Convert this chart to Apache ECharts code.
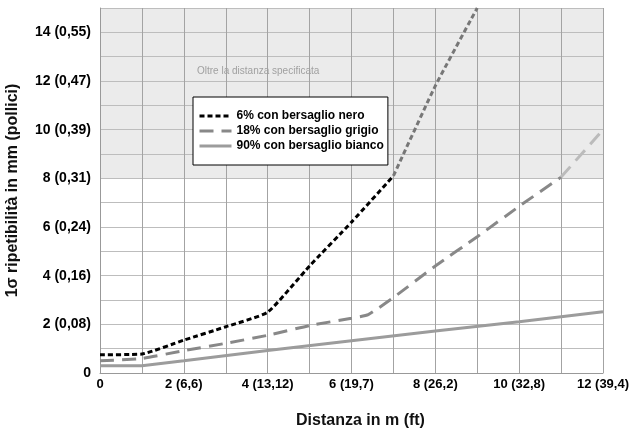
<!DOCTYPE html>
<html>
<head>
<meta charset="utf-8">
<script src="https://cdn.jsdelivr.net/npm/echarts@6/dist/echarts.min.js"></script>
<style>
  html, body { margin: 0; padding: 0; background: #fff; }
  #chart { width: 641px; height: 435px; }
</style>
</head>
<body>
<div id="chart"></div>
<script>
  var FONT = '"Liberation Sans", Arial, sans-serif'

  // tick labels
  var xLabels = { 0: '0', 2: '2 (6,6)', 4: '4 (13,12)', 6: '6 (19,7)', 8: '8 (26,2)', 10: '10 (32,8)', 12: '12 (39,4)' }
  var yLabels = { 0: '0', 2: '2 (0,08)', 4: '4 (0,16)', 6: '6 (0,24)', 8: '8 (0,31)', 10: '10 (0,39)', 12: '12 (0,47)', 14: '14 (0,55)' }

  // series values [distanza m, ripetibilita mm]
  var nero = [[0, 0.75], [1, 0.78], [2, 1.35], [3, 1.9], [4, 2.5], [5, 4.4], [6, 6.2], [7, 8.1]]
  var neroOltre = [[7, 8.1], [8, 11.8], [9, 15]]
  var grigio = [[0, 0.5], [1, 0.6], [2, 0.92], [3, 1.22], [4, 1.55], [5, 1.95], [6, 2.25], [6.4, 2.4], [7, 3.1], [8, 4.4], [9, 5.6], [10, 6.85], [11, 8.05]]
  var grigioOltre = [[11, 8.05], [12, 10]]
  var bianco = [[0, 0.3], [1, 0.3], [2, 0.5], [4, 0.92], [6, 1.33], [8, 1.73], [10, 2.11], [12, 2.52]]

  var names = ['6% con bersaglio nero', '18% con bersaglio grigio', '90% con bersaglio bianco']

  // bands: 0-8 white, 8-15 grey ("oltre la distanza specificata")
  var bandColors = []
  for (var i = 0; i < 15; i++) bandColors.push(i < 8 ? '#ffffff' : '#ebebeb')

  var mychart = echarts.init(document.getElementById('chart'))

  var option = {
    animation: false,
    grid: { left: 100, right: 38, top: 8, bottom: 62, outerBoundsMode: 'none' },
    legend: {
      data: names,
      orient: 'vertical',
      left: 193,
      top: 97,
      backgroundColor: '#fff',
      borderColor: '#000',
      borderWidth: 1,
      padding: [13, 4, 13, 5],
      itemGap: 3,
      itemWidth: 32,
      itemHeight: 13,
      itemStyle: { opacity: 0 },
      lineStyle: { width: 3 },
      textStyle: { fontFamily: FONT, fontWeight: 'bold', fontSize: 12, color: '#000' }
    },
    graphic: [{
      type: 'text',
      left: 197,
      top: 66,
      z: 100,
      silent: true,
      style: { text: 'Oltre la distanza specificata', fontFamily: FONT, fontSize: 10, fill: '#a0a0a0' }
    }],
    xAxis: {
      type: 'value',
      min: 0,
      max: 12,
      interval: 1,
      name: 'Distanza in m (ft)',
      nameLocation: 'middle',
      nameGap: 40,
      nameTextStyle: { fontFamily: FONT, fontWeight: 'bold', fontSize: 16, color: '#111', padding: [0, 0, 0, 18] },
      axisLine: { lineStyle: { color: '#999' } },
      axisTick: { show: false },
      axisLabel: {
        margin: 5,
        fontFamily: FONT, fontWeight: 'bold', fontSize: 13, color: '#000',
        formatter: function (v) { return xLabels[v] || '' }
      },
      splitLine: { show: true, lineStyle: { color: '#a3a3a3' } }
    },
    yAxis: {
      type: 'value',
      min: 0,
      max: 15,
      interval: 1,
      name: '1σ ripetibilità in mm (pollici)',
      nameLocation: 'middle',
      nameGap: 79,
      nameTextStyle: { fontFamily: FONT, fontWeight: 'bold', fontSize: 16, color: '#111' },
      axisLine: { show: true, lineStyle: { color: '#999' } },
      axisTick: { show: false },
      axisLabel: {
        margin: 9,
        fontFamily: FONT, fontWeight: 'bold', fontSize: 14, color: '#000',
        formatter: function (v) { return yLabels[v] || '' }
      },
      splitLine: { show: true, lineStyle: { color: '#bdbdbd' } },
      splitArea: { show: true, areaStyle: { color: bandColors } }
    },
    series: [
      {
        name: names[0], type: 'line', data: nero, symbol: 'none', smooth: 0.15,
        lineStyle: { color: '#000', width: 3, type: [5, 3] }, itemStyle: { color: '#000' }
      },
      {
        name: names[1], type: 'line', data: grigio, symbol: 'none', smooth: 0.15,
        lineStyle: { color: '#888', width: 3, type: [14, 8] }, itemStyle: { color: '#888' }
      },
      {
        name: names[2], type: 'line', data: bianco, symbol: 'none',
        lineStyle: { color: '#9c9c9c', width: 3 }, itemStyle: { color: '#9c9c9c' }
      },
      {
        name: 'nero oltre', type: 'line', data: neroOltre, symbol: 'none', smooth: 0.15, silent: true,
        lineStyle: { color: '#777', width: 3, type: [5, 3] }
      },
      {
        name: 'grigio oltre', type: 'line', data: grigioOltre, symbol: 'none', silent: true,
        lineStyle: { color: '#bbb', width: 3, type: [14, 8] }
      }
    ]
  }

  option && mychart.setOption(option)
</script>
</body>
</html>
